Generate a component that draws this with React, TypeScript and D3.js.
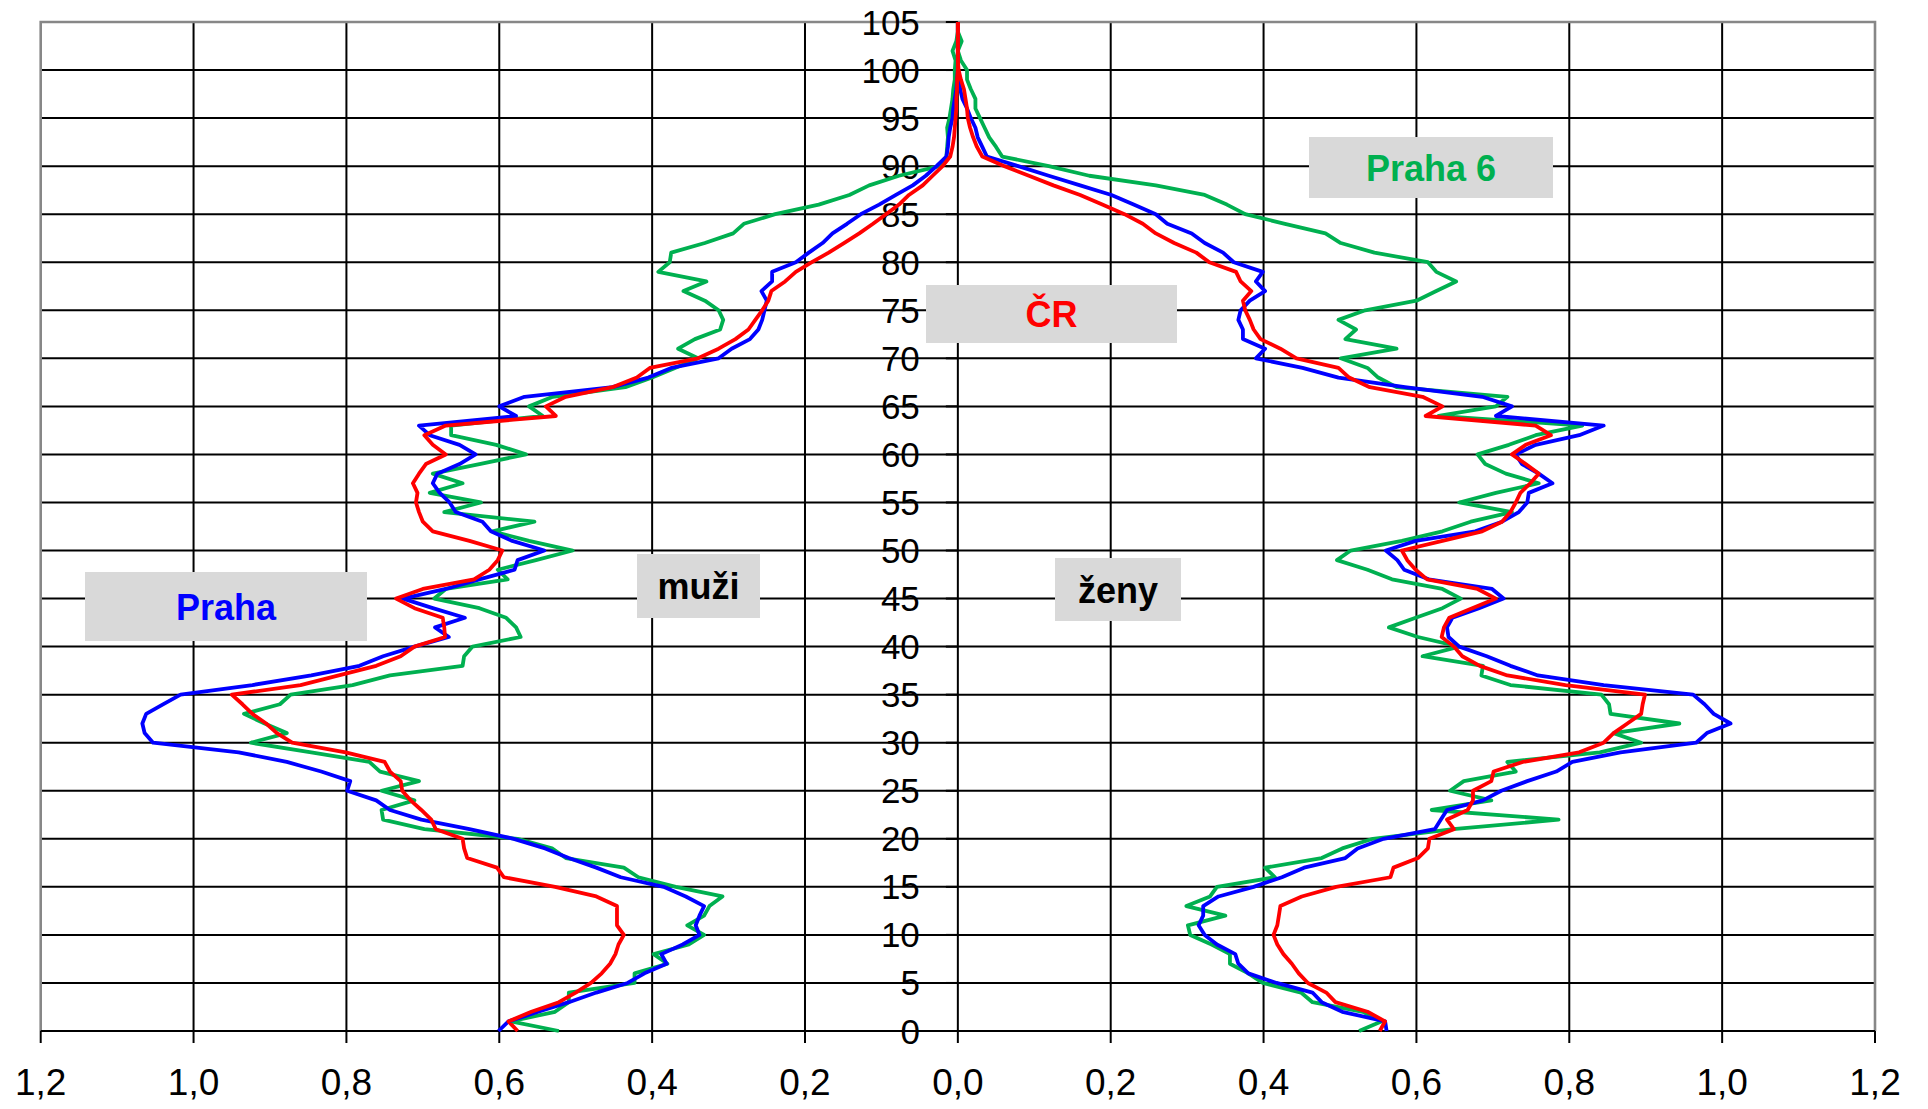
import React from "react";
import * as d3 from "d3";

// ages 0..105
const AGES: number[] = d3.range(0, 106);
const X_TICKS: number[] = [-1.2, -1.0, -0.8, -0.6, -0.4, -0.2, 0, 0.2, 0.4, 0.6, 0.8, 1.0, 1.2];
const Y_TICKS: number[] = d3.range(0, 106, 5);

// share of population (%) by single year of age — men (left side)
const prahaMen: number[] = [
  0.601, 0.588, 0.549, 0.509, 0.473, 0.432, 0.410, 0.381, 0.388, 0.360,
  0.338, 0.343, 0.338, 0.332, 0.356, 0.385, 0.441, 0.473, 0.509, 0.540,
  0.581, 0.639, 0.702, 0.743, 0.761, 0.799, 0.795, 0.833, 0.878, 0.941,
  1.053, 1.064, 1.067, 1.062, 1.040, 1.017, 0.923, 0.846, 0.783, 0.752,
  0.711, 0.666, 0.684, 0.645, 0.687, 0.726, 0.670, 0.626, 0.580, 0.576,
  0.541, 0.583, 0.611, 0.622, 0.657, 0.665, 0.678, 0.687, 0.681, 0.652,
  0.631, 0.652, 0.691, 0.705, 0.578, 0.600, 0.567, 0.452, 0.405, 0.375,
  0.313, 0.296, 0.272, 0.261, 0.256, 0.253, 0.250, 0.257, 0.243, 0.243,
  0.212, 0.195, 0.177, 0.164, 0.145, 0.127, 0.103, 0.081, 0.059, 0.042,
  0.028, 0.015, 0.013, 0.012, 0.010, 0.007, 0.006, 0.004, 0.002, 0.001,
  0, 0, 0, 0, 0, 0,
];

const czMen: number[] = [
  0.576, 0.588, 0.558, 0.522, 0.500, 0.480, 0.466, 0.455, 0.448, 0.444,
  0.437, 0.446, 0.446, 0.446, 0.473, 0.527, 0.594, 0.603, 0.642, 0.646,
  0.648, 0.683, 0.689, 0.702, 0.716, 0.727, 0.729, 0.743, 0.750, 0.801,
  0.871, 0.891, 0.905, 0.923, 0.936, 0.950, 0.860, 0.810, 0.761, 0.729,
  0.711, 0.671, 0.672, 0.674, 0.711, 0.735, 0.700, 0.633, 0.613, 0.602,
  0.596, 0.639, 0.687, 0.700, 0.705, 0.709, 0.707, 0.713, 0.705, 0.696,
  0.670, 0.687, 0.698, 0.670, 0.526, 0.539, 0.513, 0.452, 0.420, 0.403,
  0.340, 0.313, 0.291, 0.274, 0.265, 0.256, 0.248, 0.244, 0.226, 0.212,
  0.191, 0.169, 0.149, 0.129, 0.111, 0.094, 0.077, 0.064, 0.046, 0.033,
  0.020, 0.010, 0.007, 0.005, 0.004, 0.003, 0.002, 0.002, 0.001, 0.001,
  0, 0, 0, 0, 0, 0,
];

const praha6Men: number[] = [
  0.522, 0.585, 0.527, 0.509, 0.509, 0.423, 0.423, 0.380, 0.398, 0.352,
  0.332, 0.354, 0.332, 0.325, 0.308, 0.369, 0.418, 0.437, 0.513, 0.531,
  0.576, 0.698, 0.752, 0.754, 0.711, 0.754, 0.705, 0.756, 0.770, 0.846,
  0.925, 0.878, 0.907, 0.934, 0.887, 0.873, 0.792, 0.743, 0.648, 0.646,
  0.635, 0.572, 0.578, 0.591, 0.626, 0.685, 0.670, 0.589, 0.602, 0.552,
  0.504, 0.561, 0.609, 0.554, 0.672, 0.624, 0.691, 0.648, 0.687, 0.626,
  0.565, 0.604, 0.663, 0.663, 0.543, 0.561, 0.530, 0.435, 0.400, 0.370,
  0.340, 0.366, 0.344, 0.311, 0.307, 0.313, 0.331, 0.359, 0.329, 0.392,
  0.377, 0.375, 0.331, 0.294, 0.280, 0.239, 0.182, 0.142, 0.116, 0.077,
  0.024, 0.015, 0.014, 0.013, 0.014, 0.011, 0.009, 0.007, 0.006, 0.004,
  0.004, 0.003, 0.007, 0.002, 0, 0,
];

// women (right side)
const prahaWomen: number[] = [
  0.561, 0.559, 0.503, 0.476, 0.464, 0.417, 0.380, 0.367, 0.363, 0.339,
  0.323, 0.315, 0.321, 0.321, 0.341, 0.387, 0.424, 0.453, 0.507, 0.523,
  0.557, 0.624, 0.632, 0.640, 0.687, 0.711, 0.745, 0.783, 0.804, 0.867,
  0.966, 0.980, 1.011, 0.989, 0.977, 0.962, 0.845, 0.759, 0.723, 0.692,
  0.656, 0.642, 0.640, 0.647, 0.682, 0.714, 0.699, 0.616, 0.584, 0.575,
  0.560, 0.599, 0.677, 0.712, 0.734, 0.745, 0.747, 0.778, 0.760, 0.738,
  0.730, 0.756, 0.813, 0.845, 0.704, 0.725, 0.686, 0.585, 0.498, 0.451,
  0.390, 0.402, 0.373, 0.373, 0.367, 0.370, 0.382, 0.402, 0.390, 0.399,
  0.361, 0.347, 0.323, 0.306, 0.274, 0.259, 0.230, 0.201, 0.160, 0.119,
  0.079, 0.038, 0.032, 0.026, 0.023, 0.017, 0.012, 0.006, 0.003, 0.002,
  0, 0, 0, 0, 0, 0,
];

const czWomen: number[] = [
  0.552, 0.559, 0.536, 0.494, 0.482, 0.458, 0.446, 0.437, 0.426, 0.418,
  0.413, 0.418, 0.420, 0.422, 0.450, 0.495, 0.566, 0.570, 0.602, 0.615,
  0.617, 0.649, 0.640, 0.667, 0.674, 0.674, 0.698, 0.701, 0.739, 0.813,
  0.845, 0.858, 0.876, 0.894, 0.896, 0.899, 0.795, 0.719, 0.683, 0.660,
  0.649, 0.633, 0.636, 0.643, 0.673, 0.704, 0.680, 0.614, 0.599, 0.588,
  0.581, 0.634, 0.686, 0.712, 0.723, 0.730, 0.736, 0.749, 0.760, 0.743,
  0.725, 0.743, 0.776, 0.756, 0.612, 0.634, 0.608, 0.539, 0.512, 0.498,
  0.443, 0.422, 0.396, 0.387, 0.382, 0.376, 0.373, 0.384, 0.370, 0.364,
  0.329, 0.312, 0.283, 0.259, 0.242, 0.218, 0.189, 0.160, 0.125, 0.093,
  0.061, 0.032, 0.025, 0.020, 0.016, 0.013, 0.012, 0.010, 0.008, 0.004,
  0.001, 0, 0, 0, 0, 0,
];

const praha6Women: number[] = [
  0.525, 0.554, 0.530, 0.464, 0.449, 0.399, 0.380, 0.356, 0.356, 0.332,
  0.304, 0.301, 0.350, 0.299, 0.330, 0.339, 0.415, 0.402, 0.476, 0.503,
  0.543, 0.648, 0.786, 0.620, 0.698, 0.644, 0.662, 0.730, 0.719, 0.840,
  0.894, 0.858, 0.944, 0.854, 0.852, 0.842, 0.723, 0.685, 0.687, 0.608,
  0.656, 0.602, 0.564, 0.599, 0.634, 0.658, 0.634, 0.568, 0.536, 0.496,
  0.514, 0.581, 0.634, 0.671, 0.725, 0.656, 0.704, 0.760, 0.717, 0.690,
  0.680, 0.721, 0.756, 0.817, 0.629, 0.704, 0.719, 0.574, 0.550, 0.536,
  0.501, 0.574, 0.507, 0.521, 0.498, 0.533, 0.600, 0.626, 0.652, 0.626,
  0.615, 0.545, 0.501, 0.481, 0.428, 0.376, 0.352, 0.323, 0.259, 0.172,
  0.119, 0.058, 0.050, 0.041, 0.035, 0.029, 0.023, 0.023, 0.017, 0.012,
  0.012, 0.004, 0, 0.005, 0, 0,
];

const SERIES_NAMES: string[] = ["Praha 6", "Praha", "ČR"];
const SERIES_COLORS: string[] = ["#00B050", "#0000FF", "#FF0000"];
const SERIES_MEN: number[][] = [praha6Men, prahaMen, czMen];
const SERIES_WOMEN: number[][] = [praha6Women, prahaWomen, czWomen];

// annotation boxes (layout, in pixels)
const BOXES = [
  { text: "Praha", color: "#0000FF", x0: 85, x1: 367, y0: 572, y1: 641 },
  { text: "Praha 6", color: "#00B050", x0: 1309, x1: 1553, y0: 137, y1: 198 },
  { text: "ČR", color: "#FF0000", x0: 926, x1: 1177, y0: 285, y1: 343 },
  { text: "muži", color: "#000000", x0: 637, x1: 760, y0: 554, y1: 618 },
  { text: "ženy", color: "#000000", x0: 1055, x1: 1181, y0: 558, y1: 621 },
];

const FONT = "'Liberation Sans', Arial, Helvetica, sans-serif";

export default function App() {
  const W = 1928;
  const H = 1109;
  const left = 40.7;
  const right = 1875;
  const top = 22;
  const bottom = 1031;

  const x = d3.scaleLinear().domain([-1.2, 1.2]).range([left, right]);
  const y = d3.scaleLinear().domain([0, 105]).range([bottom, top]);
  const x0 = x(0);

  const menLine = d3
    .line<number>()
    .x((d) => x(-d))
    .y((_d, i) => y(AGES[i]));
  const womenLine = d3
    .line<number>()
    .x((d) => x(d))
    .y((_d, i) => y(AGES[i]));

  const fmt = (v: number) => Math.abs(v).toFixed(1).replace(".", ",");

  return (
    <svg
      width={W}
      height={H}
      viewBox={`0 0 ${W} ${H}`}
      style={{ position: "absolute", left: 0, top: 0, background: "#fff" }}
    >
      <rect x={0} y={0} width={W} height={H} fill="#fff" />
      {/* horizontal grid */}
      {Y_TICKS.filter((t) => t > 0 && t < 105).map((t) => (
        <line key={"hg" + t} x1={left} x2={right} y1={y(t)} y2={y(t)} stroke="#000" strokeWidth={2} />
      ))}
      {/* vertical grid */}
      {X_TICKS.filter((t) => Math.abs(t) < 1.19).map((t) => (
        <line key={"vg" + t} x1={x(t)} x2={x(t)} y1={top} y2={bottom} stroke="#000" strokeWidth={2} />
      ))}
      {/* plot border (grey) */}
      <path
        d={`M${left},${bottom} L${left},${top} L${right},${top} L${right},${bottom}`}
        fill="none"
        stroke="#878787"
        strokeWidth={2.6}
      />
      {/* bottom axis */}
      <line x1={left} x2={right} y1={bottom} y2={bottom} stroke="#000" strokeWidth={2.2} />
      {X_TICKS.map((t) => (
        <line key={"xt" + t} x1={x(t)} x2={x(t)} y1={bottom} y2={bottom + 12} stroke="#000" strokeWidth={2} />
      ))}
      {X_TICKS.map((t) => (
        <text
          key={"xl" + t}
          x={x(t)}
          y={1095}
          textAnchor="middle"
          fontFamily={FONT}
          fontSize={37}
          fill="#000"
        >
          {fmt(t)}
        </text>
      ))}
      {/* central axis ticks and labels */}
      {Y_TICKS.map((t) => (
        <line key={"yt" + t} x1={x0 - 12} x2={x0} y1={y(t)} y2={y(t)} stroke="#000" strokeWidth={2} />
      ))}
      {Y_TICKS.map((t) => (
        <text
          key={"yl" + t}
          x={x0 - 38}
          y={y(t) + 12.5}
          textAnchor="end"
          fontFamily={FONT}
          fontSize={35}
          fill="#000"
        >
          {t}
        </text>
      ))}
      {/* series */}
      {SERIES_NAMES.map((name, k) => (
        <g key={name}>
          <path
            d={menLine(SERIES_MEN[k]) || ""}
            fill="none"
            stroke={SERIES_COLORS[k]}
            strokeWidth={3.8}
            strokeLinejoin="round"
          />
          <path
            d={womenLine(SERIES_WOMEN[k]) || ""}
            fill="none"
            stroke={SERIES_COLORS[k]}
            strokeWidth={3.8}
            strokeLinejoin="round"
          />
        </g>
      ))}
      {/* annotation boxes */}
      {BOXES.map((b) => (
        <g key={b.text}>
          <rect x={b.x0} y={b.y0} width={b.x1 - b.x0} height={b.y1 - b.y0} fill="#D9D9D9" />
          <text
            x={(b.x0 + b.x1) / 2}
            y={(b.y0 + b.y1) / 2 + 13}
            textAnchor="middle"
            fontFamily={FONT}
            fontWeight="bold"
            fontSize={36}
            fill={b.color}
          >
            {b.text}
          </text>
        </g>
      ))}
    </svg>
  );
}
